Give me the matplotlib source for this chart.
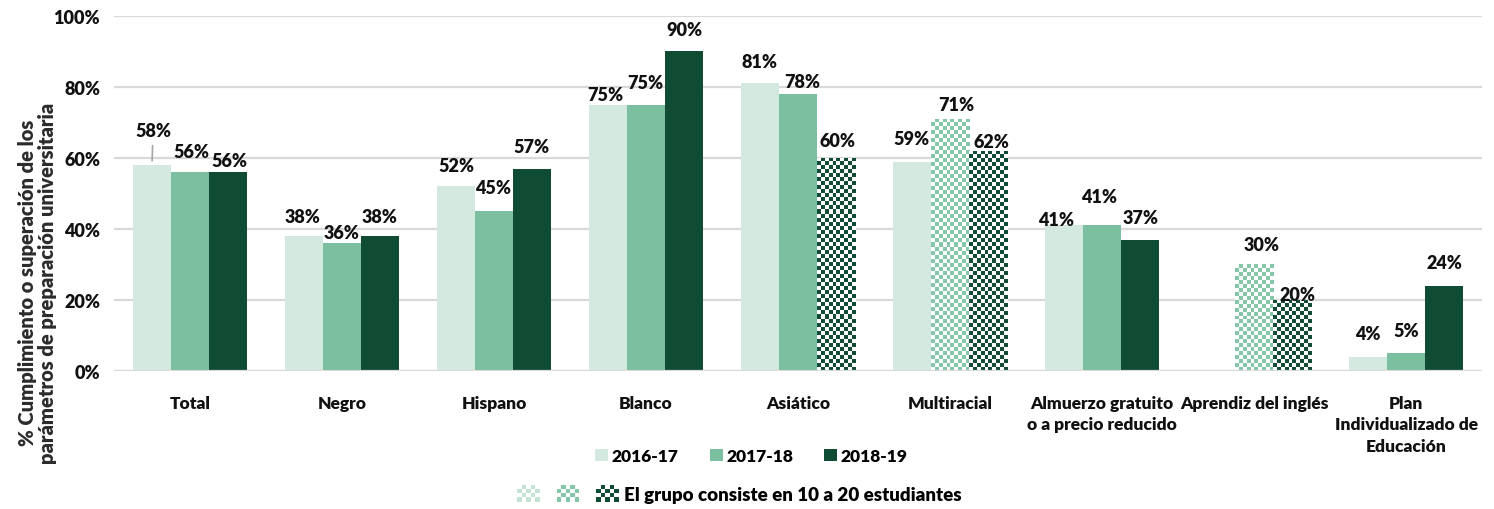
import matplotlib
matplotlib.use("Agg")
import matplotlib.pyplot as plt
import numpy as np
from matplotlib.colors import ListedColormap
from matplotlib.patches import Rectangle, Patch
from matplotlib.legend_handler import HandlerBase, HandlerTuple

plt.rcParams["font.family"] = ["Lato", "DejaVu Sans"]
plt.rcParams["font.weight"] = "heavy"

# data
categories = ["Total", "Negro", "Hispano", "Blanco", "Asiático", "Multiracial",
              "Almuerzo gratuito\no a precio reducido", "Aprendiz del inglés",
              "Plan\nIndividualizado de\nEducación"]
years = ["2016-17", "2017-18", "2018-19"]
v_2016 = [58, 38, 52, 75, 81, 59, 41, np.nan, 4]
v_2017 = [56, 36, 45, 75, 78, 71, 41, 30, 5]
v_2018 = [56, 38, 57, 90, 60, 62, 37, 20, 24]
# groups of 10 to 20 students (drawn checkered)
small_2016 = [False] * 9
small_2017 = [False, False, False, False, False, True, False, True, False]
small_2018 = [False, False, False, False, True, True, False, True, False]

colors = ["#d3e9df", "#7cbfa0", "#104b33"]

# label nudges in pixels (above bar top / sideways), as placed in the original
label_dy = [[35, 21, 12], [20, 11, 20], [21, 24, 22], [10, 22, 22], [22, 13, 17],
            [23, 14, 9], [6, 29, 22], [0, 20, 5], [23, 23, 23]]
label_dx = [[1, 1, 1], [-1, 0, 0], [0, -1, -1], [-3, -1, 0], [-1, 4, 1],
            [-1, 6, 3], [-8, -3, 1], [0, 8, 5], [0, 0, 0]]

series = [v_2016, v_2017, v_2018]
smalls = [small_2016, small_2017, small_2018]


class CheckerPatch(Patch):
    pass


class CheckerHandler(HandlerBase):
    def create_artists(self, legend, orig_handle, xdescent, ydescent,
                       width, height, fontsize, trans):
        fc = orig_handle.get_facecolor()
        nx, ny = 5, 4
        w, h = width / nx, height / ny
        arts = []
        for i in range(nx):
            for j in range(ny):
                if (i + j) % 2 == 0:
                    arts.append(Rectangle((-xdescent + i * w, -ydescent + j * h), w, h,
                                          facecolor=fc, edgecolor="none", transform=trans))
        return arts


fig = plt.figure(figsize=(14.94, 5.10), dpi=100)
ax = fig.add_axes([0.0763, 0.2706, 0.9157, 0.6961])

x = np.arange(len(categories))
width = 0.25
ax.set_xlim(-0.5, len(categories) - 0.5)
ax.set_ylim(0, 100)

bars = []
for k, (vals, sm) in enumerate(zip(series, smalls)):
    hv = np.nan_to_num(np.array(vals, dtype=float))
    bc = ax.bar(x + (k - 1) * width, hv, width,
                color=[("white" if s else colors[k]) for s in sm],
                edgecolor="none", zorder=3, label=years[k])
    bars.append(bc)

# checkered fill for small groups
px_x = ax.transData.transform((1, 0))[0] - ax.transData.transform((0, 0))[0]
px_y = ax.transData.transform((0, 1))[1] - ax.transData.transform((0, 0))[1]
cell = 4.0
for k, (vals, sm) in enumerate(zip(series, smalls)):
    for i, (v, s) in enumerate(zip(vals, sm)):
        if not s or np.isnan(v):
            continue
        b = bars[k][i]
        nx = max(1, int(round(b.get_width() * px_x / cell)))
        ny = max(1, int(round(v * px_y / cell)))
        arr = (np.add.outer(np.arange(ny), np.arange(nx)) % 2)
        cmap = ListedColormap(["white", colors[k] if k == 2 else "#86c6a8"])
        im = ax.imshow(arr, extent=(b.get_x(), b.get_x() + b.get_width(), 0, v),
                       cmap=cmap, interpolation="nearest", aspect="auto",
                       origin="lower", zorder=3.5)
        im.set_clip_path(b)

ax.set_xlim(-0.5, len(categories) - 0.5)
ax.set_ylim(0, 100)

# value labels
for k, vals in enumerate(series):
    for i, v in enumerate(vals):
        if np.isnan(v):
            continue
        xi = x[i] + (k - 1) * width
        kw = {}
        if i == 0 and k == 0:
            kw["arrowprops"] = dict(arrowstyle="-", color="#a6a6a6", lw=1.2,
                                    shrinkA=3, shrinkB=3)
        ax.annotate(f"{v:.0f}%", xy=(xi, v),
                    xytext=(label_dx[i][k] * 0.72, label_dy[i][k] * 0.72),
                    textcoords="offset points", ha="center", va="center",
                    fontsize=13, color="#111111", zorder=5, **kw)

ax.yaxis.grid(True, color="#d9d9d9", lw=1.6, zorder=0)
ax.set_axisbelow(True)
ax.axhline(0, color="#d9d9d9", lw=1.6, zorder=4)
for s in ax.spines.values():
    s.set_visible(False)

ax.set_yticks(np.arange(0, 101, 20))
ax.set_yticklabels([f"{t}%" for t in range(0, 101, 20)])
ax.set_xticks(x)
ax.set_xticklabels(categories, linespacing=1.45)
ax.tick_params(axis="y", length=0, pad=10, labelsize=13, labelcolor="#111111")
ax.tick_params(axis="x", length=0, pad=17, labelsize=12.5, labelcolor="#111111")

fig.text(0.025, 0.445, "% Cumplimiento o superación de los\nparámetros de preparación universitaria",
         rotation=90, ha="center", va="center", fontsize=14.5,
         color="#2b2b2b", linespacing=1.1)

# legends
leg1 = fig.legend(handles=[bars[0], bars[1], bars[2]], labels=years, ncol=3,
                  loc="center", bbox_to_anchor=(0.503, 0.104), frameon=False,
                  fontsize=12.5, handlelength=0.75, handleheight=0.75,
                  handletextpad=0.2, columnspacing=1.8)
for h, c in zip(leg1.legend_handles, colors):
    h.set_facecolor(c)

chk = tuple(CheckerPatch(facecolor=c) for c in ["#c5e3d5", "#86c6a8", colors[2]])
leg2 = fig.legend(handles=[chk], labels=["El grupo consiste en 10 a 20 estudiantes"],
                  loc="center", bbox_to_anchor=(0.495, 0.030), frameon=False,
                  fontsize=13.5, handlelength=5.4, handleheight=1.0, handletextpad=0.3,
                  handler_map={CheckerPatch: CheckerHandler(),
                               tuple: HandlerTuple(ndivide=None, pad=0.9)})

fig.savefig("out.png", dpi=100)
